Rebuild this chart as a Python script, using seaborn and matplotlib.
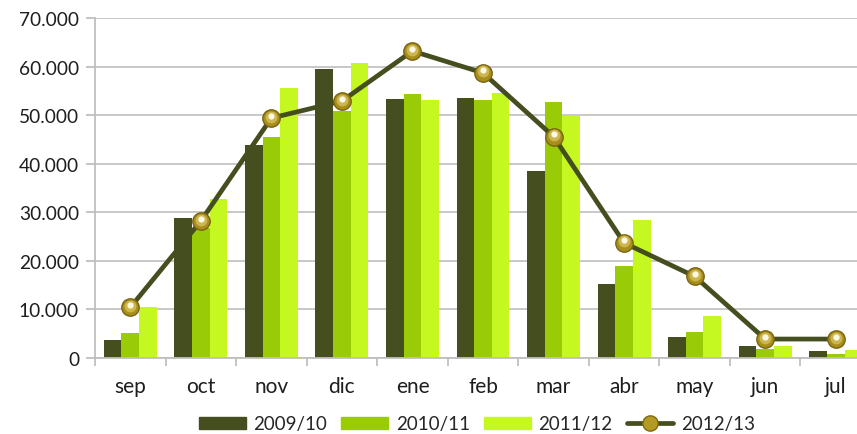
import pandas as pd
import matplotlib.pyplot as plt
import seaborn as sns
from matplotlib.lines import Line2D
from matplotlib.patches import Patch
from matplotlib.ticker import FuncFormatter, FixedLocator
from matplotlib import transforms

months = ['sep', 'oct', 'nov', 'dic', 'ene', 'feb', 'mar', 'abr', 'may', 'jun', 'jul']
s0910 = [3700, 28800, 43900, 59500, 53300, 53500, 38500, 15200, 4300, 2500, 1400]
s1011 = [5200, 26800, 45600, 50900, 54300, 53100, 52700, 18900, 5400, 1800, 800]
s1112 = [10500, 32700, 55600, 60700, 53100, 54600, 49800, 28400, 8600, 2500, 1600]
s1213 = [10400, 28200, 49400, 52900, 63200, 58700, 45600, 23700, 16800, 3900, 3900]
seasons = ['2009/10', '2010/11', '2011/12']
line_label = '2012/13'
bar_colors = ['#454E1F', '#9ACB07', '#C5F820']
line_color = '#454E1F'

sns.set_style('white')
plt.rcParams['font.family'] = ['Lato', 'DejaVu Sans']

df = pd.DataFrame({
    'mes': months * 3,
    'temporada': [s for s in seasons for _ in months],
    'valor': s0910 + s1011 + s1112,
})

fig = plt.figure(figsize=(8.57, 4.35), dpi=100)
ax = fig.add_axes([95 / 857, 1 - 359 / 435, 776 / 857, 340 / 435])

sns.barplot(data=df, x='mes', y='valor', hue='temporada', order=months,
            hue_order=seasons, palette=bar_colors, saturation=1, width=0.75,
            gap=0, linewidth=0, errorbar=None, legend=False, ax=ax)

# line for 2012/13, gold balls with a soft highlight
x = range(len(months))
ax.plot(x, s1213, color=line_color, lw=3.4, zorder=3)
ax.plot(x, s1213, ls='none', marker='o', ms=12.5,
        mfc='#A88F1C', mec='#7A6410', mew=1, zorder=4)
hl1 = transforms.offset_copy(ax.transData, fig=fig, x=0, y=1.0, units='points')
ax.plot(x, s1213, ls='none', marker='o', ms=8.5,
        mfc='#CDB550', mec='none', zorder=5, transform=hl1)
hl2 = transforms.offset_copy(ax.transData, fig=fig, x=0, y=1.8, units='points')
ax.plot(x, s1213, ls='none', marker='o', ms=4.5,
        mfc='#FCF8E4', mec='none', zorder=6, transform=hl2)

ax.set_xlim(-0.5, len(months) - 0.5)
ax.set_ylim(0, 70000)
ax.set_yticks(range(0, 70001, 10000))
ax.yaxis.set_major_formatter(FuncFormatter(lambda v, p: f"{int(v):,}".replace(',', '.')))
ax.set_xlabel('')
ax.set_ylabel('')

ax.set_axisbelow(True)
ax.grid(axis='y', color='#C4C4C4', lw=1.3)
ax.grid(axis='x', visible=False)
for side in ['top', 'right']:
    ax.spines[side].set_visible(False)
for side in ['left', 'bottom']:
    ax.spines[side].set_color('#BFBFBF')
    ax.spines[side].set_linewidth(1.3)

ax.tick_params(axis='y', length=6.5, width=1.3, color='#BFBFBF', pad=5,
               labelsize=13.8, labelcolor='#1E1E1E', left=True)
ax.tick_params(axis='x', which='major', length=0, pad=13, labelsize=15,
               labelcolor='#1E1E1E')
ax.xaxis.set_minor_locator(FixedLocator([i - 0.5 for i in range(len(months) + 1)]))
ax.tick_params(axis='x', which='minor', length=6, width=1.3, color='#BFBFBF',
               bottom=True)

handles = [Patch(color=c) for c in bar_colors]
handles.append(Line2D([], [], color=line_color, lw=3.4, marker='o', ms=11,
                      mfc='#B39A22', mec='#806A12'))
fig.legend(handles, seasons + [line_label], loc='center',
           bbox_to_anchor=(477 / 857, 1 - 425 / 435), ncol=4, frameon=False,
           fontsize=13.5, handlelength=2.5, handleheight=0.65,
           handletextpad=0.4, columnspacing=0.75, borderpad=0)

fig.savefig('out.png', dpi=100)
